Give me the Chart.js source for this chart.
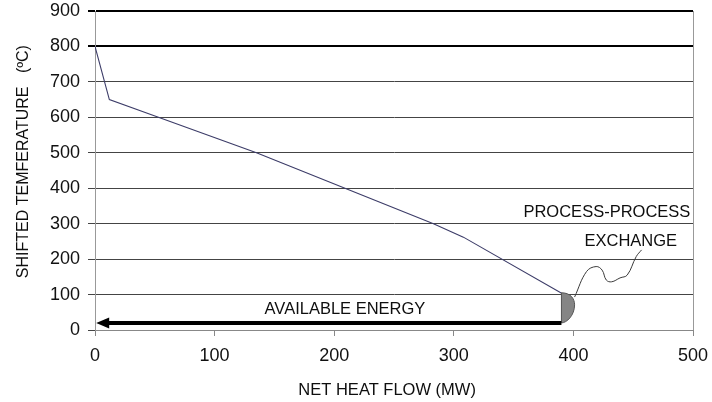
<!DOCTYPE html>
<html>
<head>
<meta charset="utf-8">
<script src="https://cdn.jsdelivr.net/npm/chart.js@4/dist/chart.umd.min.js"></script>
<style>
  html, body { margin: 0; padding: 0; background: #fff; }
</style>
</head>
<body>
<canvas id="chart" width="712" height="402"></canvas>
<script>
// composite curve (net heat flow MW vs shifted temperature degC)
const heatFlow = [0, 12, 53, 135, 209, 283, 308, 392];
const shiftedTemp = [800, 650, 600, 500, 400, 300, 262, 100];

// hand-drawn leader line from the exchange lobe up to the label
const leaderX = [401, 411, 419, 424, 427.5, 432, 439, 445, 452.5, 457];
const leaderY = [93, 165, 179, 169, 141, 136, 147, 155, 207, 226];

// "available energy" arrow and the process-process exchange lobe
const arrowFromX = 390;
const arrowToX = 1;
const arrowY = 20;
const lobeX = [390, 401];
const lobeY = [20, 105];

const noteText = ['AVAILABLE ENERGY', 'PROCESS-PROCESS', 'EXCHANGE'];
const noteX = [209, 428, 448];
const noteY = [58, 333, 251];

const xTicks = [0, 100, 200, 300, 400, 500];
const yTicks = [0, 100, 200, 300, 400, 500, 600, 700, 800, 900];

const FONT = '"Liberation Sans", Arial, sans-serif';

const annotations = {
  id: 'annotations',
  afterDatasetsDraw(chart) {
    const ctx = chart.ctx;
    const xs = chart.scales.x, ys = chart.scales.y;

    // lobe
    const lx0 = xs.getPixelForValue(lobeX[0]);
    const lx1 = xs.getPixelForValue(lobeX[1]);
    const ly0 = ys.getPixelForValue(lobeY[1]);
    const ly1 = ys.getPixelForValue(lobeY[0]);
    ctx.save();
    ctx.beginPath();
    ctx.moveTo(lx0, ly0);
    ctx.bezierCurveTo(lx0 + (lx1 - lx0) * 0.7, ly0, lx1, ly0 + (ly1 - ly0) * 0.2, lx1, ly0 + (ly1 - ly0) * 0.4);
    ctx.bezierCurveTo(lx1, ly0 + (ly1 - ly0) * 0.75, lx0 + (lx1 - lx0) * 0.4, ly1, lx0, ly1);
    ctx.closePath();
    ctx.fillStyle = '#858585';
    ctx.fill();
    ctx.strokeStyle = '#555';
    ctx.lineWidth = 1;
    ctx.stroke();

    // arrow
    const ax0 = xs.getPixelForValue(arrowFromX);
    const ax1 = xs.getPixelForValue(arrowToX);
    const ay = ys.getPixelForValue(arrowY);
    ctx.beginPath();
    ctx.moveTo(ax0, ay);
    ctx.lineTo(ax1 + 10, ay);
    ctx.strokeStyle = '#000';
    ctx.lineWidth = 4;
    ctx.stroke();
    ctx.beginPath();
    ctx.moveTo(ax1, ay);
    ctx.lineTo(ax1 + 13, ay - 5.5);
    ctx.lineTo(ax1 + 13, ay + 5.5);
    ctx.closePath();
    ctx.fillStyle = '#000';
    ctx.fill();

    // notes
    ctx.font = '16.5px ' + FONT;
    ctx.fillStyle = '#0e0e0e';
    ctx.textAlign = 'center';
    ctx.textBaseline = 'middle';
    noteText.forEach((t, i) => {
      ctx.fillText(t, xs.getPixelForValue(noteX[i]), ys.getPixelForValue(noteY[i]));
    });
    ctx.restore();
  }
};

new Chart(document.getElementById('chart'), {
  type: 'line',
  data: {
    datasets: [
      {
        data: heatFlow.map((x, i) => ({ x, y: shiftedTemp[i] })),
        borderColor: '#3c3c68',
        borderWidth: 1.1,
        pointRadius: 0,
        tension: 0
      },
      {
        data: leaderX.map((x, i) => ({ x, y: leaderY[i] })),
        borderColor: '#3a3a3a',
        borderWidth: 1,
        pointRadius: 0,
        tension: 0.4
      }
    ]
  },
  options: {
    responsive: false,
    animation: false,
    layout: { padding: { top: 11, right: 19, left: 0, bottom: 0 } },
    plugins: { legend: { display: false }, tooltip: { enabled: false } },
    scales: {
      x: {
        type: 'linear',
        min: 0,
        max: 500,
        afterBuildTicks: s => { s.ticks = xTicks.map(v => ({ value: v })); },
        afterFit: s => { s.height = 72; s.paddingLeft = 0; s.paddingRight = 0; },
        border: { color: '#888', width: 1 },
        grid: {
          color: c => (c.tick && c.tick.value === 500 ? '#999' : 'rgba(0,0,0,0)'),
          tickColor: '#888',
          tickLength: 6
        },
        ticks: { color: '#111', font: { family: FONT, size: 18 }, padding: 9 },
        title: {
          display: true,
          text: 'NET HEAT FLOW (MW)   ',
          color: '#0e0e0e',
          font: { family: FONT, size: 16.5 },
          padding: { top: 0, bottom: 2 }
        }
      },
      y: {
        min: 0,
        max: 900,
        afterBuildTicks: s => { s.ticks = yTicks.map(v => ({ value: v })); },
        afterFit: s => { s.width = 95; s.paddingTop = 0; s.paddingBottom = 0; },
        border: { color: '#999', width: 1 },
        grid: {
          color: c => (c.tick && c.tick.value >= 800 ? '#000' : '#444'),
          lineWidth: c => (c.tick && c.tick.value >= 800 ? 2 : 1),
          tickLength: 7
        },
        ticks: { color: '#111', font: { family: FONT, size: 18 }, padding: 8 },
        title: {
          display: true,
          text: '    SHIFTED TEMFERATURE   (ºC)',
          color: '#0e0e0e',
          font: { family: FONT, size: 16 },
          padding: { top: 14, bottom: 0 }
        }
      }
    }
  },
  plugins: [annotations]
});
</script>
</body>
</html>
